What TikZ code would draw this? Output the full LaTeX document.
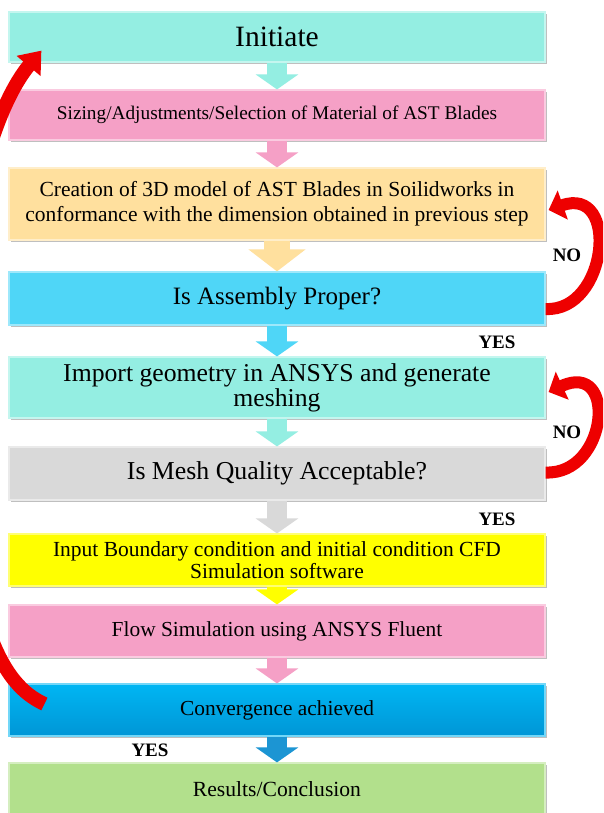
\documentclass[tikz,border=0pt]{standalone}
\usepackage{fontspec}
\setmainfont{Liberation Serif}
\usetikzlibrary{arrows.meta,shadows,calc}
\definecolor{aquab}{HTML}{94EEE2}
\definecolor{pinkb}{HTML}{F5A0C6}
\definecolor{peachb}{HTML}{FFE09E}
\definecolor{skyb}{HTML}{4FD6F7}
\definecolor{grayb}{HTML}{D9D9D9}
\definecolor{yellowb}{HTML}{FFFF00}
\definecolor{convtop}{HTML}{00B6F3}
\definecolor{convbot}{HTML}{0096D6}
\definecolor{greenb}{HTML}{B2E08C}
\definecolor{redarr}{HTML}{EE0000}
\definecolor{darkblue}{HTML}{1C95D3}
\begin{document}
\begin{tikzpicture}[x=1pt,y=-1pt,
  box/.style={minimum width=536pt, inner sep=0pt, align=center, fill=#1, draw=#1!55!white, line width=1.2pt,
    drop shadow={shadow xshift=1.5pt, shadow yshift=-2pt, opacity=0.25, fill=black}},
  fs/.style 2 args={font=\fontsize{#1}{#2}\selectfont},
  barrow/.style={draw=#1, line width=20pt, -{Triangle[length=15pt,width=42pt]}},
  bigarrow/.style={draw=#1, line width=26pt, -{Triangle[length=22pt,width=56pt]}},
  redloop/.style={draw=redarr, line width=12pt, -{Triangle[length=15pt,width=30pt]}},
  lbl/.style={font=\fontsize{19}{19}\selectfont\bfseries},
]
\path[use as bounding box] (0,0) rectangle (603,813);
\clip (0,0) rectangle (603,813);
\fill[white] (0,0) rectangle (603,813);

\node[box=aquab, minimum height=50pt, fs={29.5}{30}] (init) at (277,37) {Initiate};
\node[box=pinkb, minimum height=50pt, fs={19.3}{21}] (size) at (277,115) {Sizing/Adjustments/Selection of Material of AST Blades};
\node[box=peachb, minimum height=72pt, fs={21.5}{25}] (create) at (277,204) {Creation of 3D model of AST Blades in Soilidworks in\\conformance with the dimension obtained in previous step};
\node[box=skyb, minimum height=53pt, fs={25}{26}] (assem) at (277,298.5) {Is Assembly Proper?};
\node[box=aquab, minimum height=61pt, fs={25.7}{25}] (import) at (277,387.5) {Import geometry in ANSYS and generate\\meshing};
\node[box=grayb, minimum height=53pt, fs={25.8}{26}] (mesh) at (277,473.5) {Is Mesh Quality Acceptable?};
\node[box=yellowb, minimum height=52pt, fs={21.5}{22}] (input) at (277,560) {Input Boundary condition and initial condition CFD\\Simulation software};
\node[box=pinkb, minimum height=52pt, fs={21.4}{22}] (flow) at (277,631) {Flow Simulation using ANSYS Fluent};
\node[box=convtop, top color=convtop, bottom color=convbot, minimum height=52pt, fs={21.4}{22}] (conv) at (277,710) {Convergence achieved};
\node[box=greenb, minimum height=52pt, fs={21.6}{22}] (results) at (277,789) {Results/Conclusion};

\draw[barrow=aquab] (init.south) -- (size.north);
\draw[barrow=pinkb] (size.south) -- (create.north);
\draw[bigarrow=peachb] (create.south) -- (assem.north);
\draw[barrow=skyb] (assem.south) -- (import.north);
\draw[barrow=aquab] (import.south) -- (mesh.north);
\draw[barrow=grayb] (mesh.south) -- (input.north);
\draw[barrow=yellowb] (input.south) -- (flow.north);
\draw[barrow=pinkb] (flow.south) -- (conv.north);
\draw[barrow=darkblue] (conv.south) -- (results.north);

\coordinate (n1s) at ($(assem.east)+(0,10.5)$);
\coordinate (n1e) at ($(create.east)+(3,6)$);
\draw[redloop] (n1s) .. controls (608,312) and (620,185) .. (n1e);
\coordinate (n2s) at ($(mesh.east)+(0,-1)$);
\coordinate (n2e) at ($(import.east)+(3,4.5)$);
\draw[redloop] (n2s) .. controls (608,475) and (618,360) .. (n2e);
\coordinate (ls) at ($(conv.west)+(36,-6)$);
\coordinate (le) at ($(init.south west)+(33,-12)$);
\draw[draw=redarr, line width=14pt, -{Triangle[length=20pt,width=30pt]}] (ls) .. controls (15,690) and (-40,650) .. (-40,380) .. controls (-40,200) and (0,100) .. (le);

\node[lbl] (no1) at (567,255) {NO};
\node[lbl] (yes1) at (497,342) {YES};
\node[lbl] (no2) at (567,432) {NO};
\node[lbl] (yes2) at (497,519) {YES};
\node[lbl] (yes3) at (150,750) {YES};
\end{tikzpicture}
\end{document}
